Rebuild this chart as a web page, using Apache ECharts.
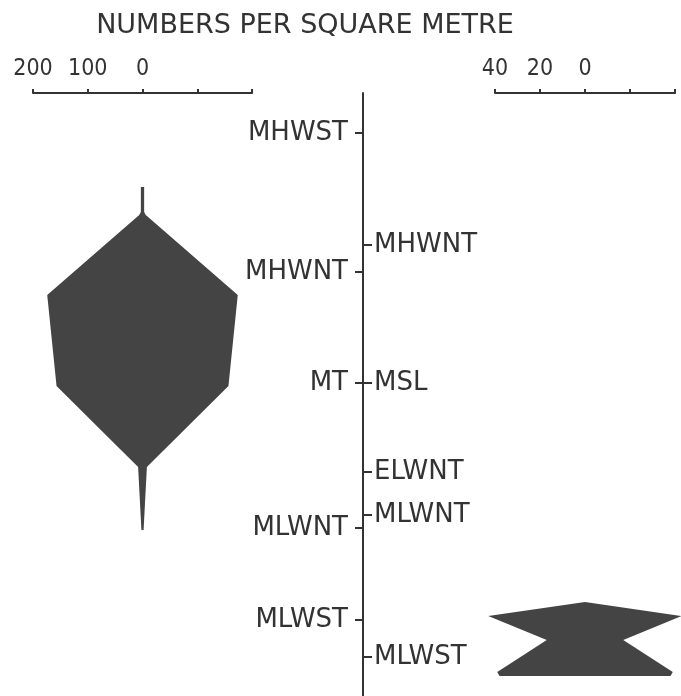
<!DOCTYPE html>
<html>
<head>
<meta charset="utf-8">
<title>Kite diagram</title>
<script src="https://cdn.jsdelivr.net/npm/echarts@6/dist/echarts.min.js"></script>
<style>
  html, body { margin: 0; padding: 0; background: #fff; }
  #main { width: 681px; height: 696px; }
</style>
</head>
<body>
<div id="main"></div>
<script>
// shore level runs top -> bottom, 0..60.3 (arbitrary units)
const leftTideNames = ['MHWST', 'MHWNT', 'MT', 'MLWNT', 'MLWST'];
const leftTideLevels = [4.0, 17.9, 29.0, 43.5, 52.7];
const rightTideNames = ['MHWNT', 'MSL', 'ELWNT', 'MLWNT', 'MLWST'];
const rightTideLevels = [15.2, 29.0, 37.9, 42.2, 56.4];

// kite half widths (numbers per square metre) at each level
const leftKiteLevels = [9.4, 11.9, 12.2, 20.2, 29.3, 37.4, 43.7];
const leftKiteDensity = [3, 3, 6, 174, 157, 8, 2];
const rightKiteLevels = [50.9, 52.3, 54.7, 57.9, 58.3];
const rightKiteDensity = [0, 43, 17, 39, 38];

// scale bar ticks
const leftScale = { min: -200, max: 200, step: 100 };
const rightScale = { min: -40, max: 40, step: 20 };

const ink = '#333';
const labelFont = 'DejaVu Sans';
const digitFont = '"Liberation Sans Narrow", "DejaVu Sans Condensed", sans-serif';

// right edge going down, then mirrored left edge going back up
function kiteOutline(levels, widths) {
  const right = levels.map((l, i) => [widths[i], l]);
  const left = levels.map((l, i) => [-widths[i], l]).reverse();
  return right.concat(left);
}

function kiteSeries(levels, widths, idx) {
  const outline = kiteOutline(levels, widths);
  return {
    type: 'custom',
    xAxisIndex: idx,
    yAxisIndex: idx,
    data: outline,
    renderItem: function (params, api) {
      if (params.dataIndex !== 0) return;
      return {
        type: 'polygon',
        shape: { points: outline.map(p => api.coord(p)) },
        style: { fill: '#444' }
      };
    }
  };
}

function scaleAxis(s, gridIndex) {
  return {
    type: 'value',
    gridIndex: gridIndex,
    position: 'top',
    min: s.min,
    max: s.max,
    interval: s.step,
    splitLine: { show: false },
    axisLine: { show: true, lineStyle: { color: ink, width: 2 } },
    axisTick: { show: true, length: 4, lineStyle: { color: ink, width: 2 } },
    axisLabel: {
      margin: 12,
      color: ink,
      fontFamily: digitFont,
      fontSize: 23,
      formatter: v => (v <= 0 ? String(-v) : '')
    }
  };
}

function levelAxis(gridIndex, position, names, levels, showLine, margin) {
  return {
    type: 'value',
    gridIndex: gridIndex,
    position: position,
    inverse: true,
    min: 0,
    max: 60.3,
    splitLine: { show: false },
    axisLine: { show: showLine, lineStyle: { color: ink, width: 2 } },
    axisTick: {
      show: !!names,
      length: 8,
      customValues: levels || [],
      lineStyle: { color: ink, width: 2 }
    },
    axisLabel: {
      show: !!names,
      margin: margin || 8,
      color: ink,
      fontFamily: labelFont,
      fontSize: 26,
      customValues: levels || [],
      formatter: v => {
        const i = levels ? levels.indexOf(v) : -1;
        return i < 0 ? '' : names[i];
      }
    }
  };
}

const chart = echarts.init(document.getElementById('main'));
chart.setOption({
  animation: false,
  backgroundColor: '#fff',
  title: {
    text: 'NUMBERS PER SQUARE METRE',
    left: 300,
    top: 7,
    textAlign: 'center',
    textStyle: { color: ink, fontFamily: labelFont, fontSize: 27, fontWeight: 'normal' }
  },
  grid: [
    { left: 33, top: 93, width: 219, height: 603 },
    { left: 495, top: 93, width: 180, height: 603 },
    { left: 363, top: 93, width: 1, height: 603 }
  ],
  xAxis: [
    scaleAxis(leftScale, 0),
    scaleAxis(rightScale, 1),
    { type: 'value', gridIndex: 2, min: 0, max: 1, show: false }
  ],
  yAxis: [
    levelAxis(0, 'left', null, null, false),
    levelAxis(1, 'left', null, null, false),
    levelAxis(2, 'left', leftTideNames, leftTideLevels, true, 15),
    levelAxis(2, 'right', rightTideNames, rightTideLevels, false, 10)
  ],
  series: [
    kiteSeries(leftKiteLevels, leftKiteDensity, 0),
    kiteSeries(rightKiteLevels, rightKiteDensity, 1)
  ]
});
</script>
</body>
</html>
